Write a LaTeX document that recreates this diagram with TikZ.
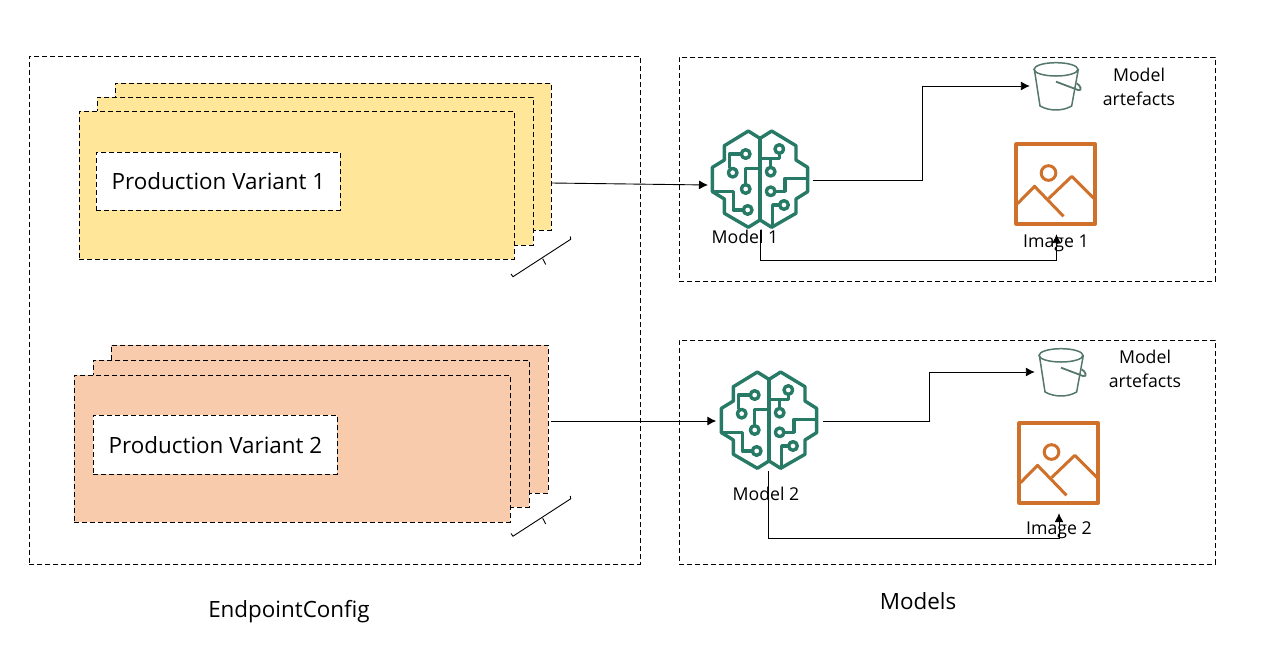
\documentclass[tikz,border=0pt]{standalone}
\usepackage{fontspec}
\setmainfont{Open Sans}
\usetikzlibrary{arrows.meta}

\definecolor{cardyellow}{HTML}{FFE699}
\definecolor{cardpeach}{HTML}{F8CBAD}
\definecolor{braingreen}{HTML}{277A66}
\definecolor{imgorange}{HTML}{D0712B}
\definecolor{bucketgrey}{HTML}{55786B}

\tikzset{
  box/.style={draw, dashed, dash pattern=on 5pt off 3pt, line width=.9pt, anchor=north west, inner sep=0pt},
  label/.style={inner sep=0pt, align=center, font=\fontsize{17.7}{23.5}\selectfont},
  biglabel/.style={inner sep=0pt, font=\fontsize{22.4}{27}\selectfont},
  cardfont/.style={font=\fontsize{22.4}{27}\selectfont},
  iconbox/.style={inner sep=0pt, minimum width=104pt, minimum height=100pt},
  conn/.style={line width=.9pt, -{Latex[length=9pt,width=9pt]}},
  brain/.pic={
    \begin{scope}[x=.333pt, y=-.333pt, draw=braingreen, line width=3.4pt, line join=round]
      \draw (0,-125) -- (-35,-147) -- (-107,-103) -- (-107,-60) -- (-143,-38) -- (-143,35)
        -- (-107,57) -- (-107,100) -- (-35,142) -- (0,120) -- (35,142) -- (108,100)
        -- (108,57) -- (143,35) -- (143,-38) -- (108,-60) -- (108,-103) -- (35,-147) -- cycle;
      \draw (0,-125) -- (0,120);
      \draw (-43,-78) -- (-92,-78) -- (-92,-35);
      \draw (-43,15) -- (-43,-35) -- (0,-35);
      \draw (-143,35) -- (-80,35) -- (-80,90) -- (-50,90);
      \draw (58,-80) -- (58,-65) -- (0,-65);
      \draw (32,-38) -- (32,-65);
      \draw (45,34) -- (75,34) -- (75,-5) -- (143,-5);
      \draw (60,75) -- (38,75) -- (38,135);
      \draw[fill=white] (-43,-78) circle (13);
      \draw[fill=white] (-82,-22) circle (13);
      \draw[fill=white] (-43,27) circle (13);
      \draw[fill=white] (-37,90) circle (13);
      \draw[fill=white] (58,-93) circle (13);
      \draw[fill=white] (32,-25) circle (13);
      \draw[fill=white] (32,34) circle (13);
      \draw[fill=white] (72,75) circle (13);
    \end{scope}
  },
  bucket/.pic={
    \begin{scope}[x=.333pt, y=-.333pt, draw=bucketgrey, line width=1.5pt]
      \draw (0,-50) ellipse (66 and 20);
      \draw (-65,-50) -- (-48,60) .. controls (-20,76) and (20,76) .. (47,60) -- (67,-50);
      \draw[line width=1.8pt] (0,-13) -- (66,12) .. controls (80,16) and (74,-2) .. (62,-8);
    \end{scope}
  },
  picture/.pic={
    \begin{scope}[x=.333pt, y=-.333pt, draw=imgorange, line join=round]
      \draw[line width=3.5pt] (-118,-120) rectangle (119,120);
      \draw[line width=3pt] (-114,59) -- (-63,7) -- (24,97);
      \draw[line width=3pt] (-21,44) -- (49,-23) -- (119,47);
      \draw[line width=3pt] (-21,-33) circle (22);
    \end{scope}
  },
  brack/.pic={
    \draw[line width=.9pt] (-31,16) -- (-29,18.7) -- (28.7,-18.7) -- (28.3,-21.5);
    \draw[line width=.9pt] (.7,.7) -- (3.7,6.5);
  }
}

\begin{document}
\begin{tikzpicture}[x=1pt, y=-1pt]
  \useasboundingbox (0,0) rectangle (1267,663);

  \node[box, minimum width=611pt, minimum height=508pt] (config) at (29,56) {};
  \node[box, minimum width=536pt, minimum height=224pt] (modelsA) at (679,57) {};
  \node[box, minimum width=536pt, minimum height=224pt] (modelsB) at (679,339.5) {};

  % first variant
  \node[box, fill=cardyellow, minimum width=436pt, minimum height=147pt] (V1c) at (115,83) {};
  \node[box, fill=cardyellow, minimum width=436pt, minimum height=148pt] (V1b) at (97,97) {};
  \node[box, fill=cardyellow, minimum width=435pt, minimum height=148pt] (V1a) at (79,111) {};
  \node[box, fill=white, cardfont, minimum width=244pt, minimum height=58pt] (V1) at (96,152) {Production Variant 1};

  % second variant
  \node[box, fill=cardpeach, minimum width=437pt, minimum height=148pt] (V2c) at (111,345) {};
  \node[box, fill=cardpeach, minimum width=436pt, minimum height=147pt] (V2b) at (93,360) {};
  \node[box, fill=cardpeach, minimum width=436pt, minimum height=147pt] (V2a) at (74,375) {};
  \node[box, fill=white, cardfont, minimum width=244pt, minimum height=59pt] (V2) at (93,415) {Production Variant 2};

  \pic at (542,258) {brack};
  \pic at (542,517.5) {brack};

  % icons
  \node[iconbox] (M1) at (760.5,180) {};
  \pic at (760,180) {brain};
  \node[iconbox] (M2) at (768.5,421) {};
  \pic at (769,421) {brain};
  \node[iconbox, minimum width=52pt, minimum height=50pt] (S1) at (1056,86) {};
  \pic at (1056,86) {bucket};
  \node[iconbox, minimum width=52pt, minimum height=50pt] (S2) at (1061,372) {};
  \pic at (1061,372) {bucket};
  \node[iconbox, minimum width=80pt] (I1) at (1056.5,184) {};
  \pic at (1055.5,184) {picture};
  \node[iconbox, minimum width=80pt] (I2) at (1059,463) {};
  \pic at (1058.5,463) {picture};

  \node[label] (M1t) at (745,237) {Model 1};
  \node[label] (M2t) at (766,494) {Model 2};
  \node[label] (I1t) at (1056,243) {Image 1};
  \node[label] (I2t) at (1059,530) {Image 2};
  \node[label] (S1t) at (1139,87) {Model\\artefacts};
  \node[label] (S2t) at (1145,369) {Model\\artefacts};
  \node[biglabel] (configt) at (289,612) {EndpointConfig};
  \node[biglabel] (modelst) at (918,601) {Models};

  \coordinate (V1out) at (551,183);
  \coordinate (M1in) at (708,185);
  \coordinate (V2out) at (551,421);
  \coordinate (M1out) at (813,180);
  \coordinate (M2out) at (823,421);

  \draw[conn] (V1out) -- (M1in);
  \draw[conn] (V2out) -- (M2.west);
  \draw[conn] (M1out) -| (922,86) -- (S1.west);
  \draw[conn] (M2out) -| (929,372) -- (S2.west);
  \draw[conn] (M1.south) -- (760.5,260) -| (I1.south);
  \draw[conn] (M2.south) -- (768.5,538) -| (I2.south);
\end{tikzpicture}
\end{document}
